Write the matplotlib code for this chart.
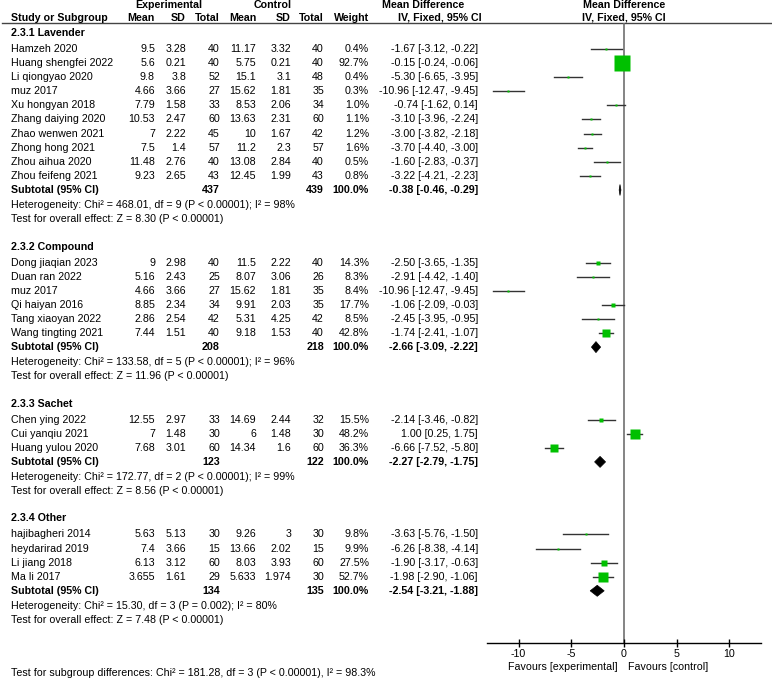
import matplotlib
matplotlib.use('Agg')
from matplotlib import pyplot as plt

plt.rcParams['font.family'] = ['Liberation Sans', 'DejaVu Sans']
plt.rcParams['axes.unicode_minus'] = False

groups = ['2.3.1 Lavender', '2.3.2 Compound', '2.3.3 Sachet', '2.3.4 Other']
group_size = [10, 6, 3, 4]

study = ['Hamzeh 2020', 'Huang shengfei 2022', 'Li qiongyao 2020', 'muz 2017',
         'Xu hongyan 2018', 'Zhang daiying 2020', 'Zhao wenwen 2021',
         'Zhong hong 2021', 'Zhou aihua 2020', 'Zhou feifeng 2021',
         'Dong jiaqian 2023', 'Duan ran 2022', 'muz 2017', 'Qi haiyan 2016',
         'Tang xiaoyan 2022', 'Wang tingting 2021',
         'Chen ying 2022', 'Cui yanqiu 2021', 'Huang yulou 2020',
         'hajibagheri 2014', 'heydarirad 2019', 'Li jiang 2018', 'Ma li 2017']
exp_mean = [9.5, 5.6, 9.8, 4.66, 7.79, 10.53, 7, 7.5, 11.48, 9.23,
            9, 5.16, 4.66, 8.85, 2.86, 7.44,
            12.55, 7, 7.68,
            5.63, 7.4, 6.13, 3.655]
exp_sd = [3.28, 0.21, 3.8, 3.66, 1.58, 2.47, 2.22, 1.4, 2.76, 2.65,
          2.98, 2.43, 3.66, 2.34, 2.54, 1.51,
          2.97, 1.48, 3.01,
          5.13, 3.66, 3.12, 1.61]
exp_n = [40, 40, 52, 27, 33, 60, 45, 57, 40, 43,
         40, 25, 27, 34, 42, 40,
         33, 30, 60,
         30, 15, 60, 29]
ctl_mean = [11.17, 5.75, 15.1, 15.62, 8.53, 13.63, 10, 11.2, 13.08, 12.45,
            11.5, 8.07, 15.62, 9.91, 5.31, 9.18,
            14.69, 6, 14.34,
            9.26, 13.66, 8.03, 5.633]
ctl_sd = [3.32, 0.21, 3.1, 1.81, 2.06, 2.31, 1.67, 2.3, 2.84, 1.99,
          2.22, 3.06, 1.81, 2.03, 4.25, 1.53,
          2.44, 1.48, 1.6,
          3, 2.02, 3.93, 1.974]
ctl_n = [40, 40, 48, 35, 34, 60, 42, 57, 40, 43,
         40, 26, 35, 35, 42, 40,
         32, 30, 60,
         30, 15, 60, 30]
weight = [0.4, 92.7, 0.4, 0.3, 1.0, 1.1, 1.2, 1.6, 0.5, 0.8,
          14.3, 8.3, 8.4, 17.7, 8.5, 42.8,
          15.5, 48.2, 36.3,
          9.8, 9.9, 27.5, 52.7]
md = [-1.67, -0.15, -5.30, -10.96, -0.74, -3.10, -3.00, -3.70, -1.60, -3.22,
      -2.50, -2.91, -10.96, -1.06, -2.45, -1.74,
      -2.14, 1.00, -6.66,
      -3.63, -6.26, -1.90, -1.98]
md_lo = [-3.12, -0.24, -6.65, -12.47, -1.62, -3.96, -3.82, -4.40, -2.83, -4.21,
         -3.65, -4.42, -12.47, -2.09, -3.95, -2.41,
         -3.46, 0.25, -7.52,
         -5.76, -8.38, -3.17, -2.90]
md_hi = [-0.22, -0.06, -3.95, -9.45, 0.14, -2.24, -2.18, -3.00, -0.37, -2.23,
         -1.35, -1.40, -9.45, -0.03, -0.95, -1.07,
         -0.82, 1.75, -5.80,
         -1.50, -4.14, -0.63, -1.06]

sub_exp_n = [437, 208, 123, 134]
sub_ctl_n = [439, 218, 122, 135]
sub_md = [-0.38, -2.66, -2.27, -2.54]
sub_lo = [-0.46, -3.09, -2.79, -3.21]
sub_hi = [-0.29, -2.22, -1.75, -1.88]
het_text = ['Heterogeneity: Chi\u00b2 = 468.01, df = 9 (P < 0.00001); I\u00b2 = 98%',
            'Heterogeneity: Chi\u00b2 = 133.58, df = 5 (P < 0.00001); I\u00b2 = 96%',
            'Heterogeneity: Chi\u00b2 = 172.77, df = 2 (P < 0.00001); I\u00b2 = 99%',
            'Heterogeneity: Chi\u00b2 = 15.30, df = 3 (P = 0.002); I\u00b2 = 80%']
z_text = ['Test for overall effect: Z = 8.30 (P < 0.00001)',
          'Test for overall effect: Z = 11.96 (P < 0.00001)',
          'Test for overall effect: Z = 8.56 (P < 0.00001)',
          'Test for overall effect: Z = 7.48 (P < 0.00001)']
subgroup_text = 'Test for subgroup differences: Chi\u00b2 = 181.28, df = 3 (P < 0.00001), I\u00b2 = 98.3%'

x_ticks = [-10, -5, 0, 5, 10]

W, H = 772, 680
FS = 7.7
fig = plt.figure(figsize=(W / 100, H / 100), dpi=100)

# table axes in pixel coordinates (y from the top)
tab = fig.add_axes([0, 0, 1, 1])
tab.set_xlim(0, W)
tab.set_ylim(H, 0)
tab.axis('off')

line_y = 23
axis_y = 643
fa = fig.add_axes([487 / W, (H - axis_y) / H, 274 / W, (axis_y - line_y) / H])
fa.set_xlim(-13, 13)
fa.set_ylim(axis_y, line_y)
fa.patch.set_alpha(0)
for s in ['left', 'right', 'top']:
	fa.spines[s].set_visible(False)
fa.spines['bottom'].set_linewidth(1)
fa.set_yticks([])
fa.set_xticks(x_ticks)
fa.tick_params(axis='x', direction='inout', length=6, width=1,
	labelsize=FS, pad=1)
fa.axvline(0, color='#6f6f6f', lw=1.2, zorder=1)

# column x positions (right edges)
cols = [155, 186, 220, 256, 291, 324, 369]
x_name = 11
x_eff = 478


def txt(x, y, s, ha='left', bold=False):
	tab.text(x, y, s, ha=ha, va='center', fontsize=FS,
		fontweight='bold' if bold else 'normal')


# headers
txt(169, 5, 'Experimental', ha='center', bold=True)
txt(273, 5, 'Control', ha='center', bold=True)
txt(382, 5, 'Mean Difference', bold=True)
txt(624, 5, 'Mean Difference', ha='center', bold=True)
txt(x_name, 18, 'Study or Subgroup', bold=True)
for x, s in zip(cols, ['Mean', 'SD', 'Total', 'Mean', 'SD', 'Total', 'Weight']):
	txt(x, 18, s, ha='right', bold=True)
txt(482, 18, 'IV, Fixed, 95% CI', ha='right', bold=True)
txt(624, 18, 'IV, Fixed, 95% CI', ha='center', bold=True)
tab.plot([2, W], [line_y, line_y], color='#444444', lw=1)

y = 33
i = 0
for g, name in enumerate(groups):
	txt(x_name, y, name, bold=True)
	y += 16
	for k in range(group_size[g]):
		txt(x_name, y, study[i])
		vals = [format(exp_mean[i], 'g'), format(exp_sd[i], 'g'), str(exp_n[i]),
			format(ctl_mean[i], 'g'), format(ctl_sd[i], 'g'), str(ctl_n[i]),
			'%.1f%%' % weight[i]]
		for x, s in zip(cols, vals):
			txt(x, y, s, ha='right')
		txt(x_eff, y, '%.2f [%.2f, %.2f]' % (md[i], md_lo[i], md_hi[i]), ha='right')
		fa.plot([md_lo[i], md_hi[i]], [y, y], color='#333333', lw=1, zorder=2)
		side = max(2.0, 0.52 * weight[i] ** 0.75)
		fa.plot(md[i], y, marker='s', ms=side / 1.389, color='#00c000',
			mec='none', zorder=3)
		y += 14.1
		i += 1
	txt(x_name, y, 'Subtotal (95% CI)', bold=True)
	txt(cols[2], y, str(sub_exp_n[g]), ha='right', bold=True)
	txt(cols[5], y, str(sub_ctl_n[g]), ha='right', bold=True)
	txt(cols[6], y, '100.0%', ha='right', bold=True)
	txt(x_eff, y, '%.2f [%.2f, %.2f]' % (sub_md[g], sub_lo[g], sub_hi[g]),
		ha='right', bold=True)
	fa.fill([sub_lo[g], sub_md[g], sub_hi[g], sub_md[g]],
		[y, y - 5.5, y, y + 5.5], color='black', lw=0.5, zorder=3)
	y += 15
	txt(x_name, y, het_text[g])
	y += 14
	txt(x_name, y, z_text[g])
	y += 27.5

txt(x_name, 673, subgroup_text)
txt(618, 667, 'Favours [experimental]', ha='right')
txt(628, 667, 'Favours [control]')

fig.savefig('out.png', dpi=100)
